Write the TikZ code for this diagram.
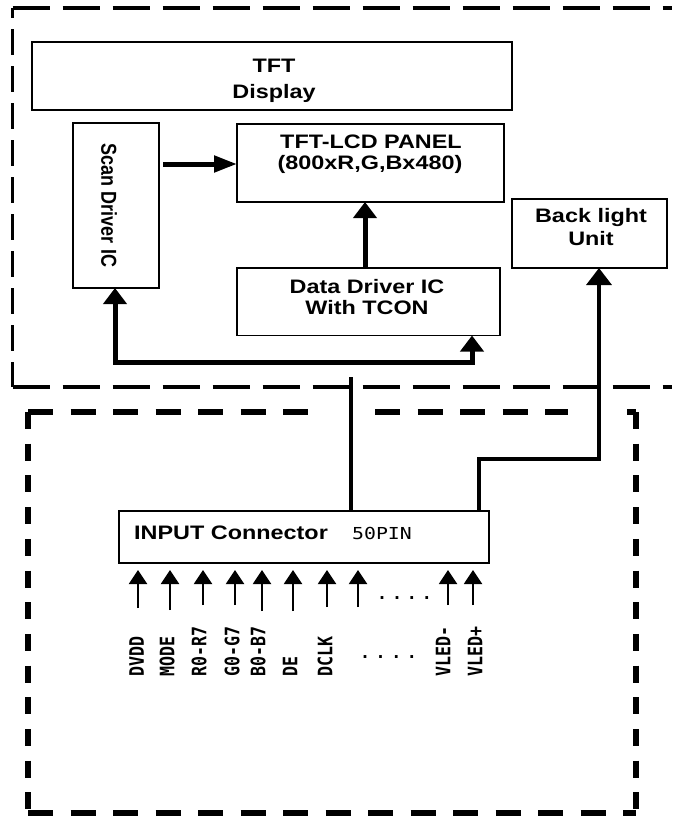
\documentclass[tikz,border=0pt]{standalone}
\usepackage{fontspec}
\usepackage{graphicx}
\usetikzlibrary{arrows.meta}
\newfontfamily\boxfont{Liberation Sans}[FakeStretch=1.2]
\newfontfamily\rotfont{Liberation Sans}
\newfontfamily\pinfont{DejaVu Sans Mono}[FakeStretch=1.2]
\newfontfamily\labfont{DejaVu Sans Mono}
\begin{document}
\begin{tikzpicture}[x=1pt,y=-1pt,
  box/.style={draw, line width=1.2pt, inner sep=0pt, outer sep=0pt},
  txt/.style={inner sep=0pt, anchor=base, font=\boxfont\bfseries\fontsize{19.5}{22}\selectfont},
  rottxt/.style={inner sep=0pt, font=\rotfont\bfseries\fontsize{18}{20}\selectfont},
  pintxt/.style={inner sep=0pt, font=\pinfont\fontsize{16.5}{18}\selectfont},
  labtxt/.style={inner sep=0pt, font=\labfont\bfseries\fontsize{16.6}{18}\selectfont},
  dotstxt/.style={inner sep=0pt, anchor=base, font=\labfont\bfseries\fontsize{16.6}{18}\selectfont},
  harrow/.style={line width=5pt, -{Triangle[length=23pt,width=16pt]}},
  varrow/.style={line width=5pt, -{Triangle[length=16pt,width=23pt]}},
  bus/.style={line width=5pt, {Triangle[length=16pt,width=23pt]}-{Triangle[length=16pt,width=23pt]}},
  wire/.style={line width=3.5pt},
  blarrow/.style={line width=3.5pt, -{Triangle[length=17pt,width=25pt]}},
  pin/.style={line width=2pt, -{Triangle[length=14pt,width=18pt]}},
  dashH/.style={line width=3.5pt, dash pattern=on 37pt off 13pt},
  dashV/.style={line width=3.5pt, dash pattern=on 26pt off 11pt, dash phase=16pt},
  bdashH/.style={line width=6pt, dash pattern=on 25pt off 17.5pt},
  bdashV/.style={line width=6pt, dash pattern=on 17pt off 14.7pt}
]
\fill[white] (0,0) rectangle (672,819);
\useasboundingbox (0,0) rectangle (672,819);

% upper dashed frame
\draw[dashH] (12.5,8) -- (672,8);
\draw[dashV] (12.5,8) -- (12.5,387);
\draw[dashH] (12.5,387) -- (672,387);

% lower dashed frame
\draw[bdashH] (28,412) -- (311,412);
\draw[bdashH] (375,412) -- (568,412);
\draw[bdashH] (627,412) -- (636,412);
\draw[bdashV] (28,412) -- (28,813);
\draw[bdashV] (636,412) -- (636,813);
\draw[bdashH] (28,813) -- (636,813);

% boxes
\node[box, minimum width=480pt, minimum height=68pt] (tft) at (272,76) {};
\node[box, minimum width=86pt, minimum height=165pt] (scan) at (116,205.5) {};
\node[box, minimum width=267pt, minimum height=78pt] (panel) at (370.5,163) {};
\node[box, minimum width=263pt, minimum height=67.5pt] (data) at (368.5,301.75) {};
\node[box, minimum width=155pt, minimum height=69pt] (bl) at (589.5,233.5) {};
\node[box, minimum width=370pt, minimum height=52pt] (conn) at (304,537) {};

% texts
\node[txt] (t1) at (274,72) {TFT};
\node[txt] (t2) at (274,98) {Display};
\node[txt] (t3) at (371,148) {TFT-LCD PANEL};
\node[txt] (t4) at (370,169) {(800xR,G,Bx480)};
\node[txt] (t5) at (367,293) {Data Driver IC};
\node[txt] (t6) at (367,314) {With TCON};
\node[txt] (t7) at (591,222) {Back light};
\node[txt] (t8) at (591,245) {Unit};
\node[txt, anchor=base west] (t9) at (134,539) {INPUT Connector};
\node[pintxt, anchor=base west] (t10) at (352,539) {50PIN};
\node[rottxt, rotate=-90] (scant) at (109,205.5) {\scalebox{1}[1.2]{Scan Driver IC}};

% connectors inside the display
\coordinate (sy) at (0,164);
\draw[harrow, shorten <=4pt] (scan.east |- sy) -- (panel.west |- sy);
\coordinate (dx) at (365,0);
\draw[varrow] (data.north -| dx) -- (panel.south -| dx);
\coordinate (busL) at (115,362);
\coordinate (busR) at (472,362);
\draw[bus] (scan.south -| busL) -- (busL) -- (busR) -- (data.south -| busR);

% wires from connector
\coordinate (vtop) at (351,377);
\draw[wire] (conn.north -| vtop) -- (vtop);
\coordinate (bl1) at (479,459);
\coordinate (bl2) at (599,459);
\draw[blarrow] (conn.north -| bl1) -- (bl1) -- (bl2) -- (bl.south -| bl2);

% pin arrows
\coordinate (pintip) at (0,570);
\foreach \i/\x/\y in {1/138/608, 2/170/610, 3/203/605, 4/235/605, 5/262/611, 6/293/611, 7/327/607, 8/358/607, 9/448/605, 10/473/605}{
  \coordinate (pa\i) at (\x,\y);
  \draw[pin] (pa\i) -- (pa\i |- pintip);
}
\node[dotstxt] (dots1) at (404.5,599) {.\hspace{5pt}.\hspace{5pt}.\hspace{5pt}.};
\node[dotstxt] (dots2) at (388.5,658) {.\hspace{5.6pt}.\hspace{5.6pt}.\hspace{5.6pt}.};

% pin labels
\foreach \i/\x/\t in {1/136.5/DVDD, 2/167/MODE, 3/199/R0-R7, 4/232/G0-G7, 5/258/B0-B7, 6/290/DE, 7/325/DCLK, 9/443/VLED-, 10/475/VLED+}{
  \node[labtxt, rotate=90, anchor=west] (lab\i) at (\x,677) {\scalebox{1}[1.2]{\t}};
}
\end{tikzpicture}
\end{document}
